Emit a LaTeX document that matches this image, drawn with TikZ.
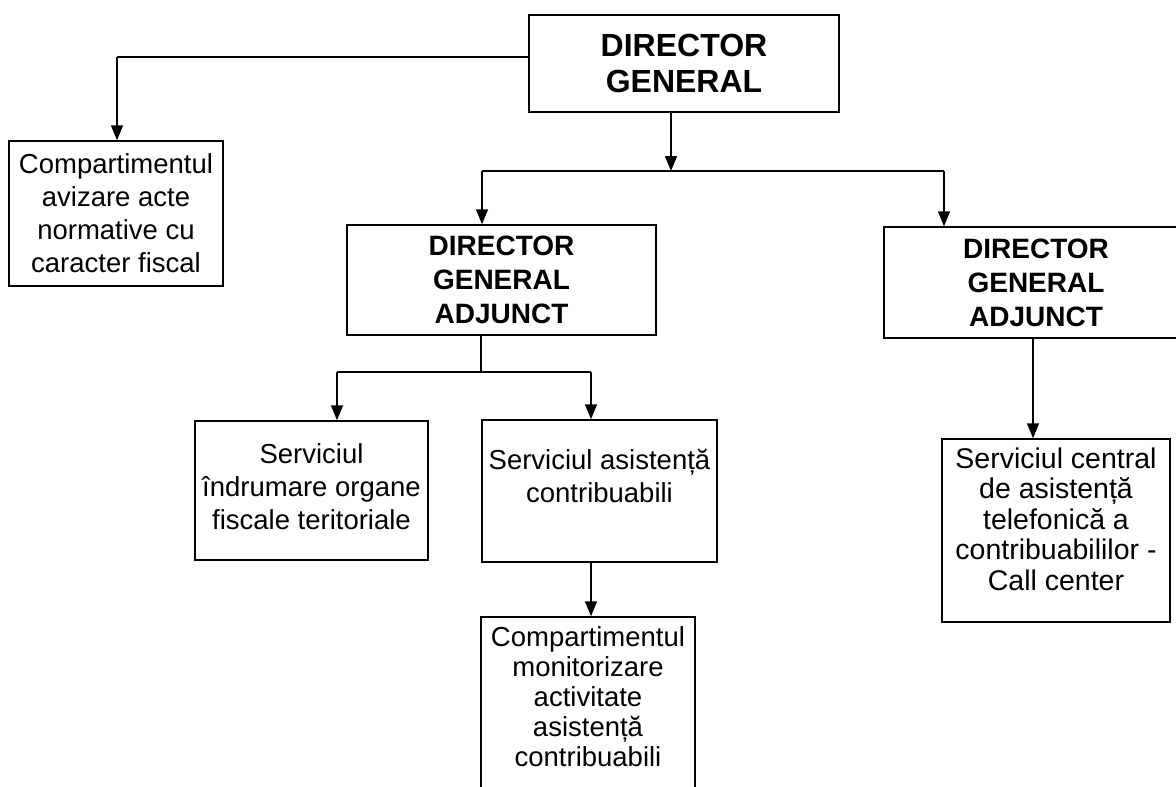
\documentclass[tikz,border=0pt]{standalone}
\usepackage{fontspec}
\setmainfont{Liberation Sans}
\usetikzlibrary{arrows.meta}
\begin{document}
\begin{tikzpicture}[x=1pt,y=-1pt,
  box/.style={draw, line width=1.5pt, rectangle, inner sep=0pt, align=center, font=\fontsize{27.5}{33}\selectfont},
  txt/.style={inner sep=0pt, align=center, font=\fontsize{27.5}{33}\selectfont},
  head/.style={box, font=\fontsize{28}{34}\bfseries\selectfont},
  arr/.style={line width=1.5pt, -{Triangle[width=12pt,length=15pt]}},
  ln/.style={line width=1.5pt}]
\useasboundingbox (0,0) rectangle (1176,787);
\fill[white] (0,0) rectangle (1176,787);
% boxes
\node[head, font=\fontsize{32}{36}\bfseries\selectfont, minimum width=310, minimum height=97] (dg) at (684,63.5) {DIRECTOR\\GENERAL};
\node[box, minimum width=214, minimum height=145] (avz) at (116,213.5) {Compartimentul\\avizare acte\\normative cu\\caracter fiscal};
\node[head, minimum width=309, minimum height=110] (dgaL) at (501.5,280) {DIRECTOR\\GENERAL\\ADJUNCT};
\node[head, minimum width=304, minimum height=111] (dgaR) at (1036,282.5) {DIRECTOR\\GENERAL\\ADJUNCT};
\node[box, minimum width=233, minimum height=139] (ind) at (311.5,490.5) {};
\node[txt] (indT) at (311.5,487) {Serviciul\\îndrumare organe\\fiscale teritoriale};
\node[box, minimum width=235, minimum height=142] (as) at (599.5,491) {};
\node[txt, anchor=north] (asT) at (599.5,449) {Serviciul asistență\\contribuabili};
\node[box, minimum width=214, minimum height=200] (mon) at (588,717) {};
\node[txt, font=\fontsize{27.5}{30}\selectfont] (monT) at (588,697) {Compartimentul\\monitorizare\\activitate\\asistență\\contribuabili};
\node[box, minimum width=228, minimum height=183] (cc) at (1056,530.5) {};
\node[txt, font=\fontsize{28.5}{30.5}\selectfont] (ccT) at (1056,519) {Serviciul central\\de asistență\\telefonică a\\contribuabililor -\\Call center};
% junction coordinates
\coordinate (j0) at (117,57);
\coordinate (j1) at (671,171);
\coordinate (h1L) at (482,171);
\coordinate (h1R) at (944,171);
\coordinate (j2) at (481,372);
\coordinate (h2L) at (337,372);
\coordinate (h2R) at (591,372);
\coordinate (j3) at (1033,338);
% connectors
\draw[ln] (dg.west |- j0) -- (j0);
\draw[arr] (j0) -- (j0 |- avz.north);
\draw[arr] (dg.south -| j1) -- (j1);
\draw[ln] (h1L) -- (h1R);
\draw[arr] (h1L) -- (h1L |- dgaL.north);
\draw[arr] (h1R) -- (h1R |- dgaR.north);
\draw[ln] (dgaL.south -| j2) -- (j2);
\draw[ln] (h2L) -- (h2R);
\draw[arr] (h2L) -- (h2L |- ind.north);
\draw[arr] (h2R) -- (h2R |- as.north);
\draw[arr] (as.south -| h2R) -- (h2R |- mon.north);
\draw[arr] (dgaR.south -| j3) -- (j3 |- cc.north);
\end{tikzpicture}
\end{document}
